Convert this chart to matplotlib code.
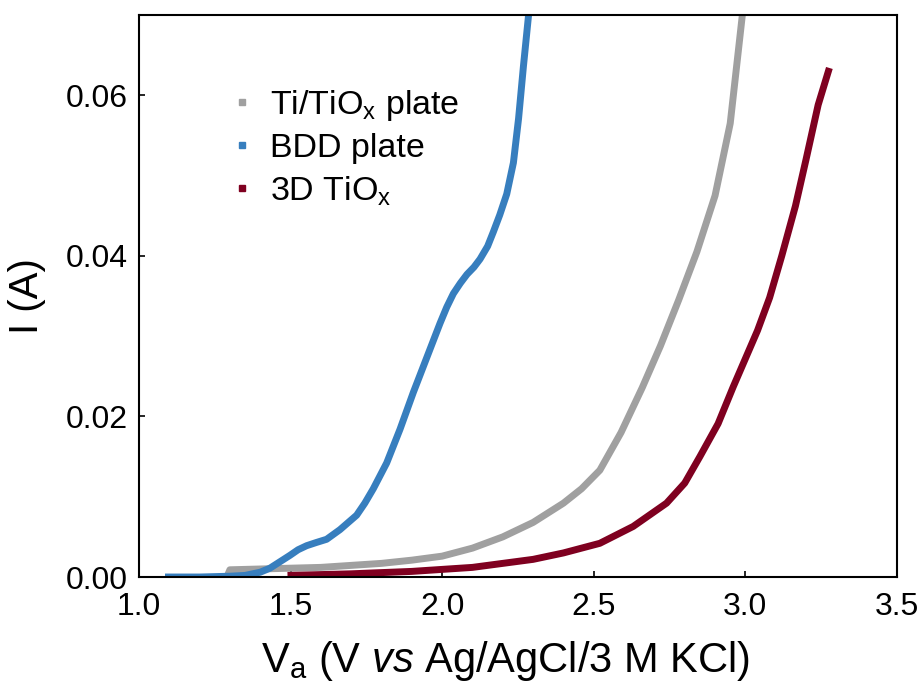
import matplotlib
matplotlib.use("Agg")
import matplotlib.pyplot as plt
from matplotlib.lines import Line2D

plt.rcParams['font.family'] = ['Liberation Sans', 'DejaVu Sans']
plt.rcParams['mathtext.fontset'] = 'custom'
plt.rcParams['mathtext.rm'] = 'Liberation Sans'
plt.rcParams['mathtext.it'] = 'Liberation Sans:italic'

# Ti/TiOx plate
v_ti = [1.29, 1.30, 1.40, 1.60, 1.80, 1.90, 2.00, 2.10, 2.20, 2.30, 2.40, 2.46,
        2.52, 2.59, 2.66, 2.72, 2.78, 2.84, 2.90, 2.95, 2.99]
i_ti = [0.0000, 0.0009, 0.0010, 0.0012, 0.0017, 0.0021, 0.0026, 0.0036, 0.0050,
        0.0068, 0.0092, 0.0110, 0.0133, 0.0180, 0.0236, 0.0288, 0.0345, 0.0405,
        0.0475, 0.0565, 0.0700]

# BDD plate
v_bdd = [1.086, 1.20, 1.30, 1.35, 1.40, 1.432, 1.465, 1.498, 1.525, 1.553, 1.585,
         1.619, 1.663, 1.718, 1.745, 1.773, 1.817, 1.861, 1.905, 1.950, 1.993,
         2.015, 2.037, 2.060, 2.082, 2.105, 2.125, 2.150, 2.169, 2.190, 2.213,
         2.235, 2.252, 2.268, 2.285]
i_bdd = [0.0000, 0.0000, 0.0001, 0.0002, 0.0006, 0.0011, 0.0019, 0.0027, 0.0034,
         0.0039, 0.0043, 0.0047, 0.0059, 0.0077, 0.0092, 0.0110, 0.0142, 0.0184,
         0.0230, 0.0274, 0.0316, 0.0336, 0.0353, 0.0366, 0.0377, 0.0386, 0.0396,
         0.0412, 0.0430, 0.0451, 0.0477, 0.0516, 0.0571, 0.0636, 0.0700]

# 3D TiOx
v_3d = [1.49, 1.70, 1.90, 2.10, 2.30, 2.40, 2.52, 2.63, 2.74, 2.80, 2.85, 2.91,
        2.96, 3.00, 3.04, 3.08, 3.12, 3.165, 3.20, 3.24, 3.277]
i_3d = [0.0002, 0.0004, 0.0007, 0.0012, 0.0022, 0.0030, 0.0042, 0.0063, 0.0092,
        0.0117, 0.0150, 0.0191, 0.0237, 0.0272, 0.0307, 0.0348, 0.0400, 0.0462,
        0.0520, 0.0588, 0.0634]

labels = [r"Ti/TiO$_{\mathrm{x}}$ plate", "BDD plate", r"3D TiO$_{\mathrm{x}}$"]
colors = ["#a0a0a0", "#377ebe", "#7f0020"]

fig = plt.figure(figsize=(9.2, 6.84), dpi=100)
ax = fig.add_axes([0.151, 0.1564, 0.824, 0.8217])

for v, i, c in zip([v_ti, v_bdd, v_3d], [i_ti, i_bdd, i_3d], colors):
    ax.plot(v, i, color=c, lw=5, solid_joinstyle='round', solid_capstyle='butt')

ax.set_xlim(1.0, 3.5)
ax.set_ylim(0, 0.07)
ax.set_xticks([1.0, 1.5, 2.0, 2.5, 3.0, 3.5])
ax.set_yticks([0.00, 0.02, 0.04, 0.06])
ax.set_yticklabels(["0.00", "0.02", "0.04", "0.06"])
ax.tick_params(direction='in', length=4, width=1.2, labelsize=23)
ax.tick_params(axis='x', pad=11)
ax.tick_params(axis='y', pad=8)
for s in ax.spines.values():
    s.set_linewidth(1.5)

ax.set_xlabel(r"V$_{\mathrm{a}}$ (V $\mathit{vs}$ Ag/AgCl/3 M KCl)", fontsize=30, labelpad=12)
ax.xaxis.label.set_x(0.483)
ax.set_ylabel("I (A)", fontsize=29, labelpad=14)

handles = [Line2D([], [], ls='none', marker='s', markersize=5, color=c) for c in colors]
ax.legend(handles, labels, loc='upper left', bbox_to_anchor=(0.078, 0.925), frameon=False,
          fontsize=24.5, handlelength=0.8, handletextpad=0.42, labelspacing=0.3)

fig.savefig("out.png", dpi=100)
